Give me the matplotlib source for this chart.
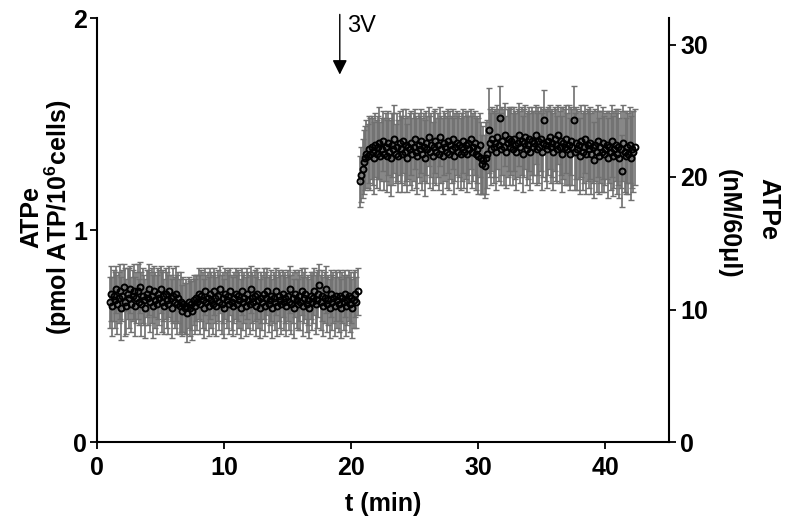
import numpy as np
import matplotlib
matplotlib.use("Agg")
from matplotlib import pyplot as plt

plt.rcParams['font.family'] = ['Liberation Sans', 'DejaVu Sans']
plt.rcParams['font.weight'] = 'bold'
plt.rcParams['mathtext.fontset'] = 'custom'
plt.rcParams['mathtext.bf'] = 'Liberation Sans:bold'
plt.rcParams['mathtext.rm'] = 'Liberation Sans:bold'
plt.rcParams['mathtext.default'] = 'bf'

# time grid of the two recordings (min)
t_before_start = 1.0
t_after_start = 20.7
t_step = 0.1

# ATPe (pmol ATP/10^6 cells), written in hundredths
atp_before_x100 = [
    66, 70, 64, 69, 67, 72, 65, 68, 71, 63, 69, 73, 66, 64, 70, 68, 72, 65, 69, 71,
    64, 68, 71, 66, 73, 65, 69, 67, 63, 70, 68, 72, 66, 69, 64, 71, 67, 65, 70, 68,
    72, 66, 69, 64, 70, 67, 65, 71, 68, 63, 69, 66, 70, 65, 68, 64, 66, 62, 65, 63,
    64, 61, 66, 63, 65, 62, 67, 64, 68, 66, 70, 65, 69, 67, 63, 71, 66, 68, 64, 70,
    67, 65, 71, 68, 64, 69, 66, 72, 65, 68, 63, 70, 67, 69, 65, 71, 66, 64, 68, 70,
    65, 69, 67, 63, 71, 66, 68, 64, 70, 67, 65, 72, 68, 66, 69, 64, 70, 67, 63, 68,
    66, 70, 64, 68, 71, 65, 67, 69, 63, 68, 66, 71, 64, 69, 67, 65, 70, 66, 68, 64,
    69, 66, 72, 65, 68, 63, 70, 67, 65, 69, 66, 71, 64, 68, 70, 65, 67, 63, 69, 66,
    68, 71, 65, 67, 70, 74, 66, 69, 64, 68, 72, 65, 67, 63, 70, 66, 68, 64, 69, 67,
    65, 69, 63, 68, 66, 70, 64, 67, 69, 65, 68, 63, 67, 70, 66, 71,
]
sd_before_x100 = [
    12, 13, 14, 12, 13, 11, 14, 12, 13, 15, 12, 11, 16, 13, 12, 14, 11, 13, 12, 13,
    14, 12, 13, 11, 12, 15, 13, 12, 14, 11, 13, 12, 14, 13, 15, 12, 13, 14, 12, 13,
    11, 14, 12, 13, 12, 13, 14, 12, 11, 14, 13, 12, 13, 14, 12, 13, 14, 12, 13, 12,
    13, 14, 12, 13, 12, 14, 12, 13, 11, 13, 12, 14, 12, 13, 14, 11, 13, 12, 14, 12,
    13, 14, 11, 12, 14, 12, 13, 11, 14, 12, 14, 12, 13, 12, 14, 11, 13, 14, 12, 12,
    14, 12, 13, 14, 11, 13, 12, 14, 12, 13, 14, 11, 12, 13, 12, 14, 12, 13, 14, 12,
    13, 12, 14, 12, 11, 13, 12, 12, 14, 12, 13, 11, 14, 12, 13, 14, 11, 13, 12, 14,
    12, 13, 11, 14, 12, 14, 11, 13, 12, 12, 13, 11, 14, 12, 12, 13, 12, 14, 11, 13,
    12, 11, 14, 13, 11, 10, 13, 12, 14, 12, 11, 13, 12, 14, 11, 13, 12, 14, 12, 13,
    13, 12, 14, 12, 13, 11, 14, 12, 12, 13, 12, 14, 13, 11, 12, 11,
]
atp_after_x100 = [
    123, 126, 129, 132, 134, 136, 135, 138, 136, 139, 137, 134, 140, 136, 139, 141, 135, 138, 142, 136,
    139, 135, 141, 137, 134, 140, 138, 143, 136, 139, 135, 141, 138, 136, 142, 137, 140, 134, 139, 138,
    141, 136, 139, 143, 137, 135, 140, 138, 142, 136, 139, 134, 141, 138, 144, 137, 140, 135, 139, 142,
    137, 140, 136, 144, 138, 135, 141, 139, 137, 142, 136, 140, 138, 143, 135, 139, 141, 137, 140, 136,
    139, 142, 137, 140, 136, 141, 138, 143, 137, 139, 141, 136, 138, 135, 140, 134, 131, 133, 130, 134,
    136, 147, 141, 138, 143, 139, 141, 137, 144, 140, 153, 138, 142, 139, 145, 137, 141, 143, 139, 142,
    138, 143, 140, 137, 141, 145, 139, 142, 136, 141, 144, 138, 140, 143, 137, 142, 139, 141, 145, 138,
    142, 139, 143, 137, 141, 152, 140, 138, 142, 144, 139, 141, 137, 143, 140, 138, 145, 139, 142, 136,
    141, 139, 143, 138, 140, 136, 142, 139, 152, 137, 141, 138, 140, 135, 142, 137, 139, 143, 136, 140,
    138, 141, 136, 139, 133, 140, 137, 142, 135, 139, 137, 141, 136, 138, 140, 134, 139, 137, 142, 135,
    138, 140, 136, 139, 134, 138, 128, 141, 137, 135, 139, 136, 140, 134, 138, 137, 139,
]
sd_after_x100 = [
    12, 13, 14, 15, 15, 16, 15, 16, 17, 15, 16, 17, 15, 16, 15, 17, 16, 15, 14, 17,
    16, 17, 15, 16, 18, 15, 17, 16, 14, 16, 17, 15, 16, 18, 15, 16, 17, 16, 15, 17,
    15, 17, 16, 14, 17, 18, 15, 16, 15, 17, 16, 18, 15, 16, 14, 17, 15, 16, 17, 15,
    16, 15, 17, 14, 16, 18, 15, 16, 17, 15, 17, 16, 16, 14, 18, 16, 15, 17, 15, 17,
    16, 15, 17, 16, 18, 15, 16, 14, 17, 16, 15, 17, 16, 18, 15, 17, 14, 16, 15, 17,
    16, 20, 16, 17, 15, 17, 16, 18, 15, 17, 15, 17, 16, 18, 15, 17, 16, 15, 18, 16,
    17, 15, 16, 18, 16, 15, 17, 16, 18, 16, 15, 17, 16, 15, 18, 16, 17, 15, 14, 17,
    16, 17, 15, 18, 16, 14, 17, 18, 16, 15, 17, 16, 18, 15, 17, 16, 14, 17, 16, 18,
    17, 18, 16, 17, 19, 17, 16, 18, 16, 18, 17, 19, 16, 18, 17, 18, 17, 16, 19, 17,
    18, 17, 19, 17, 18, 17, 19, 17, 18, 17, 19, 17, 18, 17, 16, 19, 17, 18, 17, 19,
    18, 17, 19, 18, 19, 18, 17, 18, 19, 18, 17, 19, 18, 20, 18, 19, 18,
]

x_ticks = [0, 10, 20, 30, 40]
left_ticks = [0, 1, 2]
right_ticks = [0, 10, 20, 30]
stim_time = 19.1

atp_before = np.array(atp_before_x100) / 100
sd_before = np.array(sd_before_x100) / 100
atp_after = np.array(atp_after_x100) / 100
sd_after = np.array(sd_after_x100) / 100
t_before = t_before_start + t_step * np.arange(len(atp_before))
t_after = t_after_start + t_step * np.arange(len(atp_after))

W, H = 785, 525
fig = plt.figure(figsize=(W / 100, H / 100), dpi=100)
fig.subplots_adjust(left=97/W, right=669/W, bottom=83/H, top=507/H)
ax = fig.add_subplot(111)

for t, m, s in [(t_before, atp_before, sd_before), (t_after, atp_after, sd_after)]:
    ax.errorbar(t, m, yerr=s, fmt='none', ecolor='#707070', elinewidth=1.2,
                capsize=2.2, capthick=1, zorder=2)
    ax.plot(t, m, 'o', mfc='none', mec='black', ms=4.3, mew=1.4, zorder=3)

ax.set_xlim(0, 45)
ax.set_ylim(0, 2)
ax.set_xticks(x_ticks)
ax.set_yticks(left_ticks)
ax.spines['top'].set_visible(False)
ax.spines['right'].set_visible(False)
for sp in ['left', 'bottom']:
    ax.spines[sp].set_linewidth(1.5)
ax.tick_params(labelsize=18, width=1.3, length=5)
ax.tick_params(axis='y', pad=2)
ax.tick_params(axis='x', pad=5)
ax.set_xlabel('t (min)', fontsize=18, fontweight='bold', labelpad=9)

ax2 = ax.twinx()
ax2.set_ylim(0, 32)
ax2.set_yticks(right_ticks)
ax2.spines['top'].set_visible(False)
ax2.spines['left'].set_visible(False)
ax2.spines['bottom'].set_visible(False)
ax2.spines['right'].set_linewidth(1.5)
ax2.tick_params(labelsize=18, width=1.3, length=5, pad=3)

# y axis titles, one line each
fig.text(31/W, 1 - 217/H, 'ATPe', rotation=90, ha='center', va='center',
         fontsize=18, fontweight='bold')
fig.text(58/W, 1 - 217/H, '(pmol ATP/10$^{6}$cells)', rotation=90,
         ha='center', va='center', fontsize=18, fontweight='bold')
fig.text(768/W, 1 - 209/H, 'ATPe', rotation=270, ha='center', va='center',
         fontsize=18, fontweight='bold')
fig.text(729/W, 1 - 224/H, '(nM/60μl)', rotation=270, ha='center', va='center',
         fontsize=18, fontweight='bold')

ax.annotate('', xy=(stim_time, 1.72), xytext=(stim_time, 2.03),
            arrowprops=dict(arrowstyle='-|>', color='black', lw=1, mutation_scale=22),
            annotation_clip=False)
ax.text(stim_time + 0.6, 1.935, '3V', fontsize=17, fontweight='normal')

fig.savefig('out.png', dpi=100)
